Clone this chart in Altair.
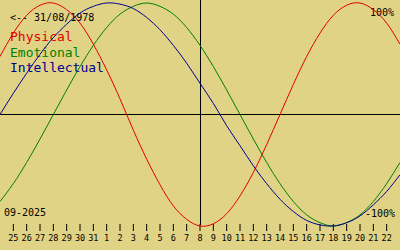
import altair as alt
import pandas as pd

# day offsets relative to 08-09-2025 (centre line)
days = list(range(-15, 16))

physical = [0.52, 0.73, 0.89, 0.98, 1.00, 0.94, 0.82, 0.63, 0.40, 0.14, -0.14,
            -0.40, -0.63, -0.82, -0.94, -1.00, -0.98, -0.89, -0.73, -0.52, -0.27,
            0.00, 0.27, 0.52, 0.73, 0.89, 0.98, 1.00, 0.94, 0.82, 0.63]
emotional = [-0.78, -0.62, -0.43, -0.22, 0.00, 0.22, 0.43, 0.62, 0.78, 0.90, 0.97,
             1.00, 0.97, 0.90, 0.78, 0.62, 0.43, 0.22, 0.00, -0.22, -0.43,
             -0.62, -0.78, -0.90, -0.97, -1.00, -0.97, -0.90, -0.78, -0.62, -0.43]
intellectual = [0.00, 0.19, 0.37, 0.54, 0.69, 0.81, 0.91, 0.97, 1.00, 0.99, 0.95,
                0.87, 0.76, 0.62, 0.46, 0.28, 0.10, -0.10, -0.28, -0.46, -0.62,
                -0.76, -0.87, -0.95, -0.99, -1.00, -0.97, -0.91, -0.81, -0.69, -0.54]

tick_days = list(range(-14, 15))
tick_labels = ["25", "26", "27", "28", "29", "30", "31", "1", "2", "3", "4", "5",
               "6", "7", "8", "9", "10", "11", "12", "13", "14", "15", "16", "17",
               "18", "19", "20", "21", "22"]

series_names = ["Physical", "Emotional", "Intellectual"]
series_colors = ["#E00000", "#008000", "#000090"]
series_values = [physical, emotional, intellectual]

BG = "#E1D385"
MONO = "DejaVu Sans Mono"

xs = alt.Scale(domain=[-15, 15], range=[0, 400])
ys = alt.Scale(domain=[-1, 1], range=[226, 3])

ticks_df = pd.DataFrame({"t": tick_days, "label": tick_labels})
zero_df = pd.DataFrame({"z": [0]})
one_df = pd.DataFrame({"a": [0]})

layers = []

# axes cross lines
layers.append(alt.Chart(zero_df).mark_rule(color="black", strokeWidth=1, xOffset=0.5).encode(
    x=alt.X("z:Q", scale=xs, axis=None), y=alt.value(0), y2=alt.value(225)))
layers.append(alt.Chart(zero_df).mark_rule(color="black", strokeWidth=1).encode(
    y=alt.Y("z:Q", scale=ys, axis=None), x=alt.value(0), x2=alt.value(400)))

# day ticks and labels
layers.append(alt.Chart(ticks_df).mark_rule(color="black", strokeWidth=1).encode(
    x=alt.X("t:Q", scale=xs, axis=None), y=alt.value(224), y2=alt.value(231)))
layers.append(alt.Chart(ticks_df).mark_text(font=MONO, fontSize=8.5, color="black",
                                            baseline="alphabetic", align="center").encode(
    x=alt.X("t:Q", scale=xs, axis=None), y=alt.value(241), text="label:N"))

# texts
def txt(s, x, y, size, color="black", align="left"):
    return alt.Chart(one_df).mark_text(text=s, font=MONO, fontSize=size, color=color,
                                       align=align, baseline="alphabetic").encode(
        x=alt.value(x), y=alt.value(y))

layers.append(txt("<-- 31/08/1978", 10, 21, 10))
layers.append(txt("Physical", 10, 41, 13, series_colors[0]))
layers.append(txt("Emotional", 10, 57, 13, series_colors[1]))
layers.append(txt("Intellectual", 10, 72, 13, series_colors[2]))
layers.append(txt("100%", 394, 16, 10, align="right"))
layers.append(txt("-100%", 395, 217, 10, align="right"))
layers.append(txt("09-2025", 4, 216, 10))

# curves
for name, col, vals in zip(series_names, series_colors, series_values):
    df = pd.DataFrame({"t": days, "v": vals})
    layers.append(alt.Chart(df).mark_line(color=col, strokeWidth=1, interpolate="natural").encode(
        x=alt.X("t:Q", scale=xs, axis=None),
        y=alt.Y("v:Q", scale=ys, axis=None)))

chart = alt.layer(*layers).properties(
    width=400, height=250, padding=0, autosize=alt.AutoSizeParams(type="none"),
    background=BG
).configure_view(stroke=None, fill=BG)

chart.save("out.html", embed_options={"renderer": "svg", "actions": False})
